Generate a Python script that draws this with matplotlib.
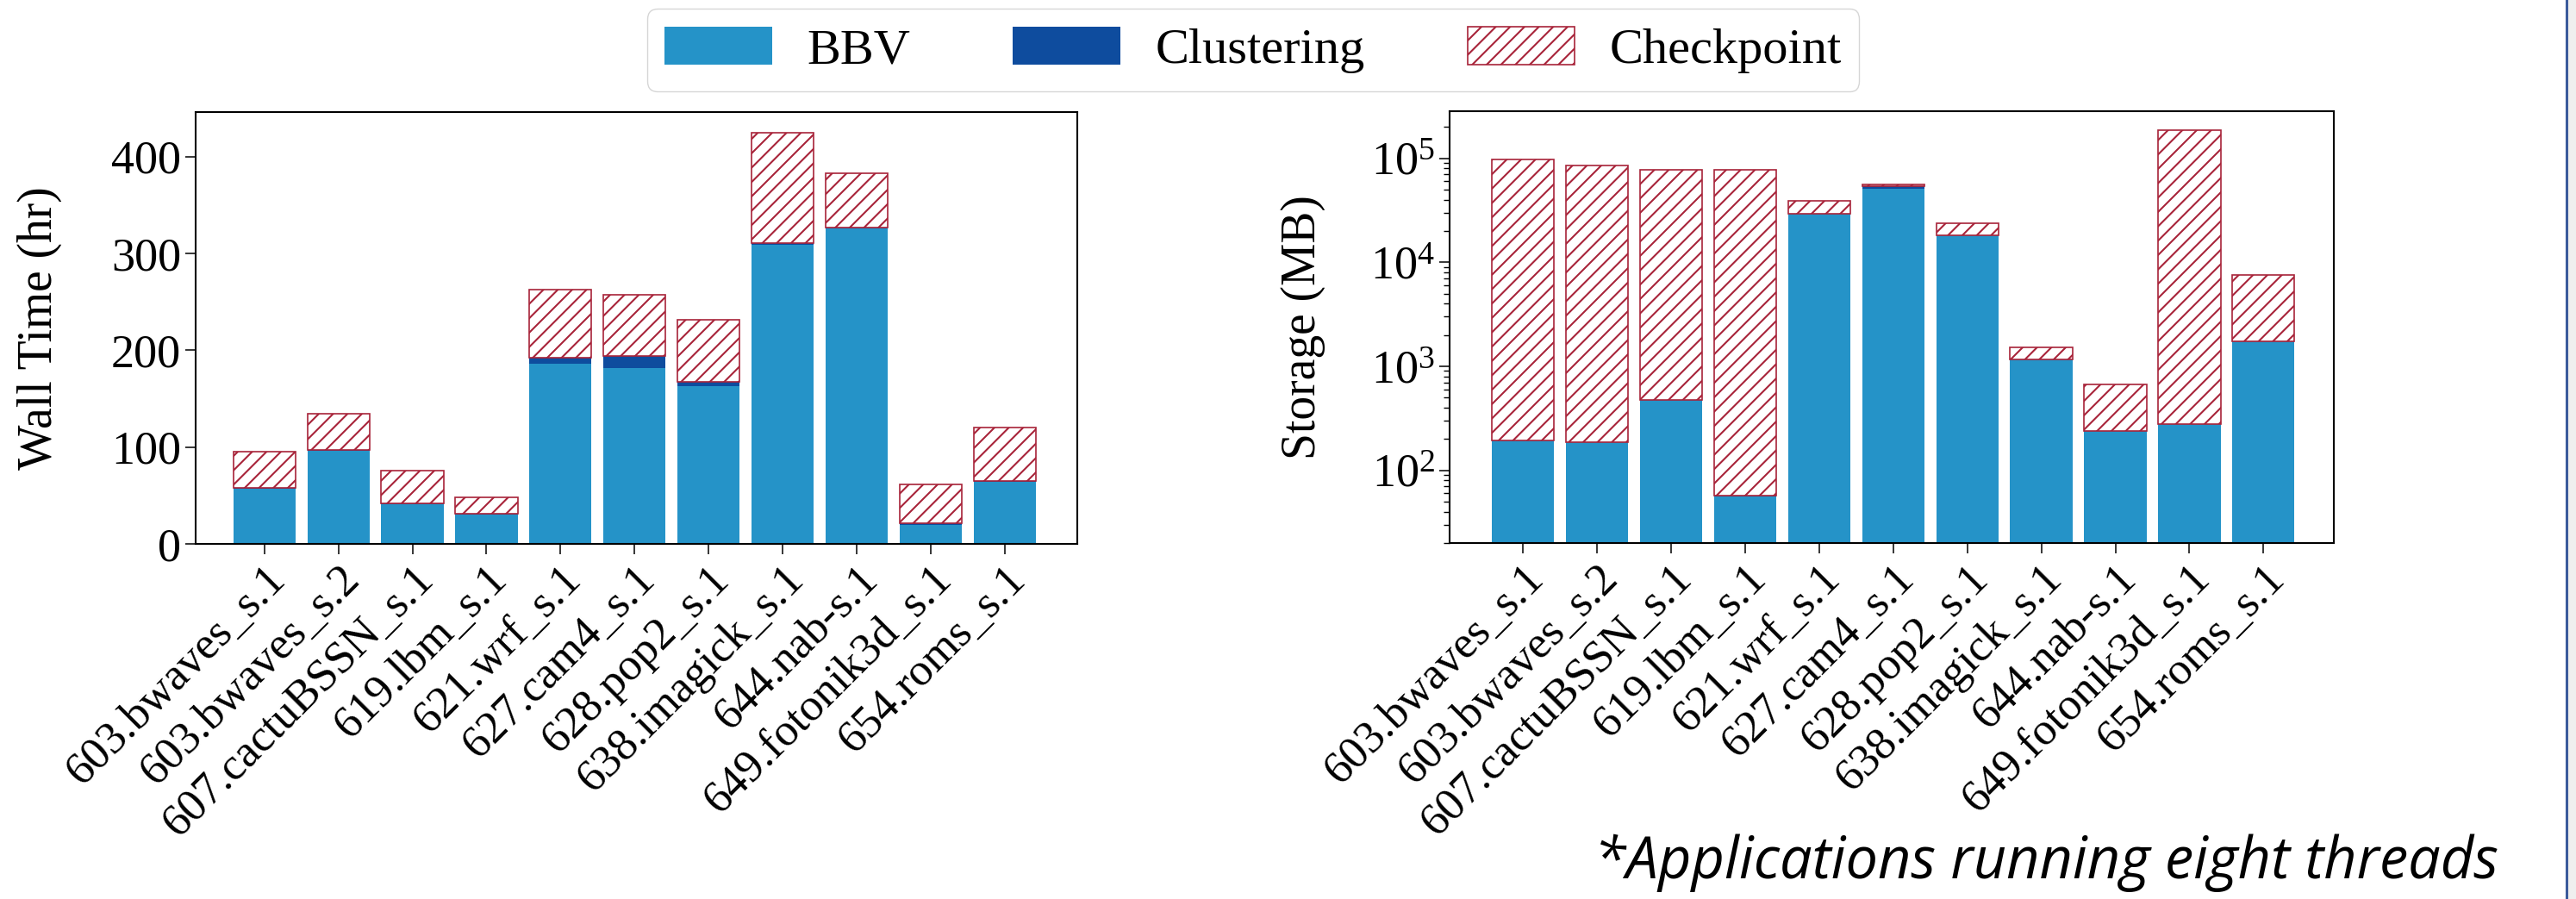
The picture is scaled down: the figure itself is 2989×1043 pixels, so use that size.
import matplotlib
matplotlib.use("Agg")
import matplotlib.pyplot as plt
import matplotlib.transforms as mtransforms
from matplotlib.patches import Rectangle
from matplotlib.lines import Line2D
import numpy as np

plt.rcParams['font.family'] = ['Liberation Serif', 'DejaVu Serif']
plt.rcParams['mathtext.fontset'] = 'custom'
plt.rcParams['mathtext.rm'] = 'Liberation Serif'
plt.rcParams['mathtext.it'] = 'Liberation Serif:italic'
plt.rcParams['hatch.linewidth'] = 1.5

apps = ['603.bwaves_s.1', '603.bwaves_s.2', '607.cactuBSSN_s.1', '619.lbm_s.1',
        '621.wrf_s.1', '627.cam4_s.1', '628.pop2_s.1', '638.imagick_s.1',
        '644.nab-s.1', '649.fotonik3d_s.1', '654.roms_s.1']

# wall time (hr)
bbv_time = [57, 96, 41, 30, 186, 182, 163, 309, 326, 20, 64]
clust_time = [1, 1, 1, 1, 6.5, 12, 4, 2, 1, 1, 1]
ckpt_time = [37, 37, 34, 17, 70.5, 63, 64, 114, 56, 40, 55]

# storage (MB)
bbv_stor = [193, 185, 472, 56.5, 29200, 51000, 18000, 1160, 239, 279, 1750]
clust_stor = [1, 1, 1, 1, 1, 2500, 1, 1, 1, 1, 1]
ckpt_stor = [96400, 84300, 76900, 77300, 9500, 2600, 5600, 370, 430, 184700, 5760]

c_bbv = '#2593c8'
c_clust = '#0e4c9e'
c_ckpt = '#a8243a'

fig = plt.figure(figsize=(29.89, 10.43), dpi=100)
ax1 = fig.add_axes([0.0759, 0.395, 0.3423, 0.4804])
ax2 = fig.add_axes([0.5627, 0.396, 0.3433, 0.4803])

x = np.arange(len(apps))
w = 0.84


def stack(ax, bbv, clust, ckpt):
    bbv = np.array(bbv, dtype=float)
    clust = np.array(clust, dtype=float)
    ckpt = np.array(ckpt, dtype=float)
    b1 = ax.bar(x, bbv, w, color=c_bbv, label='BBV')
    b2 = ax.bar(x, clust, w, bottom=bbv, color=c_clust, label='Clustering')
    b3 = ax.bar(x, ckpt, w, bottom=bbv + clust, facecolor='white',
                edgecolor=c_ckpt, hatch='//', linewidth=1.2, label='Checkpoint')
    return b1, b2, b3


handles = stack(ax1, bbv_time, clust_time, ckpt_time)
stack(ax2, bbv_stor, clust_stor, ckpt_stor)

ax1.set_xlim(-0.93, 10.98)
ax1.set_ylim(0, 446)
ax1.set_yticks([0, 100, 200, 300, 400])
ax1.set_ylabel('Wall Time (hr)', fontsize=40)
ax1.yaxis.set_label_coords(-0.151, 0.5)

ax2.set_yscale('log')
ax2.set_xlim(-0.99, 10.95)
ax2.set_ylim(20, 2.83e5)
ax2.set_ylabel('Storage (MB)', fontsize=40)
ax2.yaxis.set_label_coords(-0.140, 0.5)

offset = mtransforms.ScaledTranslation(15 / 72, -12 / 72, fig.dpi_scale_trans)
for ax in (ax1, ax2):
    ax.set_xticks(x)
    ax.set_xticklabels(apps, rotation=45, ha='right', va='top',
                       rotation_mode='anchor', fontsize=38)
    for lab in ax.get_xticklabels():
        lab.set_transform(lab.get_transform() + offset)
    ax.tick_params(axis='y', which='major', labelsize=39)
    ax.tick_params(axis='both', which='major', length=8.5, width=1.1)
    ax.tick_params(axis='y', which='minor', length=5, width=1.0)
    for s in ax.spines.values():
        s.set_linewidth(1.5)

leg = fig.legend(handles=handles, loc='upper center', ncol=3,
                 bbox_to_anchor=(0.4865, 0.990), borderaxespad=0, fontsize=42,
                 handlelength=2.13, handleheight=0.79, columnspacing=2.04,
                 handletextpad=0.7, borderpad=0.35)

fig.text(1850 / 2989, 1 - 1019 / 1043, '*Applications running eight threads',
         family='Open Sans', style='italic', fontsize=48, ha='left',
         va='baseline')

# slide edge on the right
fig.patches.append(Rectangle((2979 / 2989, 0), 10 / 2989, 1,
                             transform=fig.transFigure, facecolor='#efefef',
                             edgecolor='none'))
fig.lines.append(Line2D([2977.5 / 2989] * 2, [0, 1], transform=fig.transFigure,
                        color='#3b5b9b', linewidth=2.2))

fig.savefig('out.png', dpi=100, facecolor='white')
